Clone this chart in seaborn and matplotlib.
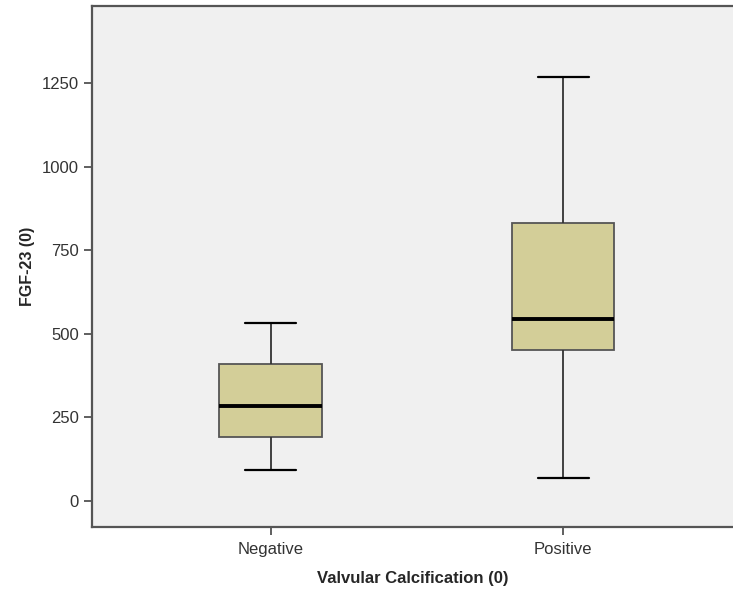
import numpy as np
import pandas as pd
import matplotlib
matplotlib.use("Agg")
import matplotlib.pyplot as plt
import seaborn as sns

# five-number summaries (min, Q1, median, Q3, max)
categories = ["Negative", "Positive"]
negative_vals = [92, 190, 283, 408, 532]
positive_vals = [68, 452, 544, 832, 1268]
y_ticks = [0, 250, 500, 750, 1000, 1250]

df = pd.DataFrame({
    "group": [categories[0]] * len(negative_vals) + [categories[1]] * len(positive_vals),
    "value": negative_vals + positive_vals,
})

sns.set_style("white")
plt.rcParams["font.family"] = ["Liberation Sans", "DejaVu Sans"]

fig = plt.figure(figsize=(7.33, 5.95), dpi=100)
ax = fig.add_axes([0.1255, 0.1143, 0.8745, 0.8748])
ax.set_facecolor("#F0F0F0")

sns.boxplot(data=df, x="group", y="value", order=categories, ax=ax,
            whis=(0, 100), width=0.35, color="#D3CE98", saturation=1,
            linecolor="#333333", linewidth=1.3,
            boxprops={"edgecolor": "#555555"},
            medianprops={"color": "black", "linewidth": 2.8},
            capprops={"color": "black", "linewidth": 1.6},
            whiskerprops={"color": "#333333", "linewidth": 1.3})

ax.set_xlim(-0.61, 1.58)
ax.set_ylim(-79, 1479)
ax.set_yticks(y_ticks)
ax.set_yticklabels([str(t) for t in y_ticks])

for side in ["left", "bottom", "top"]:
    ax.spines[side].set_color("#555555")
    ax.spines[side].set_linewidth(1.6)
ax.spines["right"].set_visible(False)

ax.tick_params(axis="both", direction="out", length=6, width=1.2, color="#444444",
               labelsize=12, labelcolor="#333333", left=True, bottom=True)
ax.tick_params(axis="x", pad=5)

ax.set_xlabel("Valvular Calcification (0)", fontsize=12, fontweight="bold", labelpad=10)
ax.set_ylabel("FGF-23 (0)", fontsize=11.5, fontweight="bold", labelpad=5)

fig.savefig("out.png", dpi=100)
